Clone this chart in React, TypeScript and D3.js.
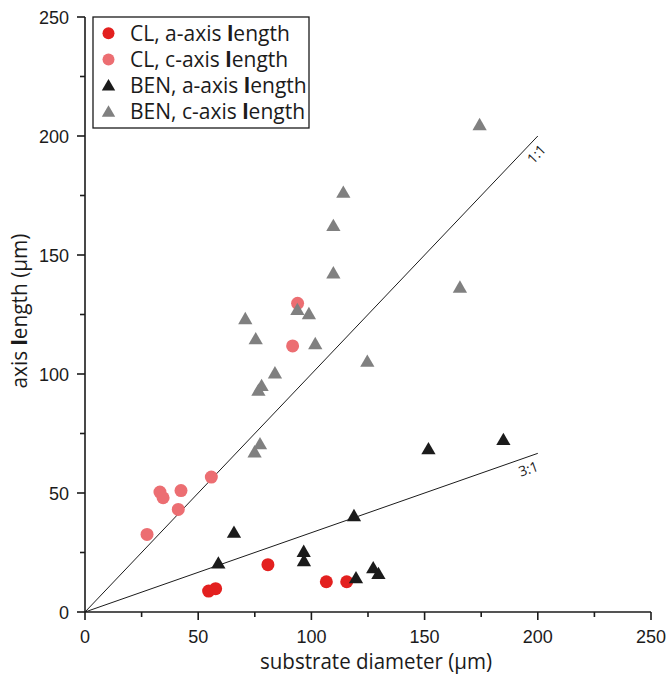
import React from 'react';
import * as d3 from 'd3';

// substrate diameter (µm), axis length (µm)
const clA_x = [54.6, 57.7, 80.8, 106.6, 115.6];
const clA_y = [8.8, 9.8, 19.9, 12.7, 12.7];

const clC_x = [27.4, 33.1, 34.5, 42.4, 41.2, 55.8, 91.7, 93.9];
const clC_y = [32.6, 50.4, 48.0, 51.0, 43.1, 56.7, 111.8, 129.7];

const benA_x = [58.9, 65.8, 96.6, 96.7, 118.8, 119.7, 127.3, 129.6, 151.7, 184.8];
const benA_y = [20.4, 33.3, 25.3, 21.4, 40.3, 14.2, 18.4, 16.0, 68.4, 72.3];

const benC_x = [114.1, 109.7, 109.7, 93.8, 98.9, 70.8, 75.4, 101.7, 124.7, 83.9, 78.0, 76.6, 77.3, 74.9, 174.3, 165.6];
const benC_y = [176.2, 162.2, 142.3, 126.9, 125.2, 123.1, 114.6, 112.6, 105.2, 100.3, 95.0, 93.0, 70.5, 67.1, 204.6, 136.3];

const majorTicks = [0, 50, 100, 150, 200, 250];
const minorTicks = [25, 75, 125, 175, 225];

const refLines = [
  { label: '1:1', x0: 0, y0: 0, x1: 200, y1: 200 },
  { label: '3:1', x0: 0, y0: 0, x1: 200, y1: 200 / 3 },
];

const seriesNames = ['CL, a-axis length', 'CL, c-axis length', 'BEN, a-axis length', 'BEN, c-axis length'];

const W = 667;
const H = 675;
const M = { left: 85, right: 651, top: 17, bottom: 612 };

const FONT_TICK = '"Liberation Sans", Arial, sans-serif';
const FONT_TXT = '"Open Sans", "Noto Sans", sans-serif';

function LengthText({ text }: { text: string }) {
  // the source rendering shows the "l" of "length" heavier
  const i = text.indexOf('length');
  if (i < 0) return <>{text}</>;
  return (
    <>
      {text.slice(0, i)}
      <tspan fontWeight={700}>l</tspan>
      {text.slice(i + 1)}
    </>
  );
}

export default function App() {
  const x = d3.scaleLinear().domain([0, 250]).range([M.left, M.right]);
  const y = d3.scaleLinear().domain([0, 250]).range([M.bottom, M.top]);

  const series = [
    { name: seriesNames[0], xs: clA_x, ys: clA_y, color: '#e3201f', shape: 'circle' },
    { name: seriesNames[1], xs: clC_x, ys: clC_y, color: '#ec6e72', shape: 'circle' },
    { name: seriesNames[2], xs: benA_x, ys: benA_y, color: '#1b1b1b', shape: 'triangle' },
    { name: seriesNames[3], xs: benC_x, ys: benC_y, color: '#808080', shape: 'triangle' },
  ];

  const tri = d3.symbol(d3.symbolTriangle, 88)() as string;
  const triLegend = d3.symbol(d3.symbolTriangle, 78)() as string;

  const drawOrder = [1, 0, 3, 2];

  return (
    <svg width={W} height={H} style={{ position: 'absolute', left: 0, top: 0, display: 'block', background: '#fff' }}>
      <rect x={0} y={0} width={W} height={H} fill="#fff" />

      {/* reference lines */}
      {refLines.map((r) => {
        const px0 = x(r.x0), py0 = y(r.y0), px1 = x(r.x1), py1 = y(r.y1);
        const ang = (Math.atan2(py1 - py0, px1 - px0) * 180) / Math.PI;
        const rad = (ang * Math.PI) / 180;
        // label placed just below the line end, along it
        const along = -14;
        const perp = 11;
        const lx = px1 + along * Math.cos(rad) - perp * Math.sin(rad);
        const ly = py1 + along * Math.sin(rad) + perp * Math.cos(rad);
        return (
          <g key={r.label}>
            <line x1={px0} y1={py0} x2={px1} y2={py1} stroke="#1b1b1b" strokeWidth={1} />
            <text
              x={lx}
              y={ly}
              transform={`rotate(${ang} ${lx} ${ly})`}
              fontFamily={FONT_TXT}
              fontSize={14}
              textAnchor="middle"
              dominantBaseline="central"
              fill="#1b1b1b"
            >
              {r.label}
            </text>
          </g>
        );
      })}

      {/* points */}
      {drawOrder.map((si) => {
        const s = series[si];
        return (
          <g key={s.name}>
            {s.xs.map((vx, i) =>
              s.shape === 'circle' ? (
                <circle key={i} cx={x(vx)} cy={y(s.ys[i])} r={6.5} fill={s.color} />
              ) : (
                <path key={i} d={tri} transform={`translate(${x(vx)},${y(s.ys[i]) + 1})`} fill={s.color} />
              )
            )}
          </g>
        );
      })}

      {/* axes */}
      <g stroke="#1b1b1b" strokeWidth={1.6} fill="none">
        <line x1={M.left} y1={M.bottom} x2={M.right} y2={M.bottom} />
        <line x1={M.left} y1={M.bottom} x2={M.left} y2={M.top} />
        {majorTicks.map((t) => (
          <line key={'xM' + t} x1={x(t)} x2={x(t)} y1={M.bottom} y2={M.bottom + 8} />
        ))}
        {minorTicks.map((t) => (
          <line key={'xm' + t} x1={x(t)} x2={x(t)} y1={M.bottom} y2={M.bottom + 5} />
        ))}
        {majorTicks.map((t) => (
          <line key={'yM' + t} y1={y(t)} y2={y(t)} x1={M.left} x2={M.left - 8} />
        ))}
        {minorTicks.map((t) => (
          <line key={'ym' + t} y1={y(t)} y2={y(t)} x1={M.left} x2={M.left - 5} />
        ))}
      </g>
      <g fontFamily={FONT_TICK} fontSize={18} fill="#1b1b1b">
        {majorTicks.map((t) => (
          <text key={'xl' + t} x={x(t)} y={M.bottom + 31} textAnchor="middle">
            {t}
          </text>
        ))}
        {majorTicks.map((t) => (
          <text key={'yl' + t} x={M.left - 16} y={y(t) + 6.5} textAnchor="end">
            {t}
          </text>
        ))}
      </g>

      {/* axis titles */}
      <text x={376} y={669} textAnchor="middle" fontFamily={FONT_TXT} fontSize={21} fill="#1b1b1b" textLength={232} lengthAdjust="spacingAndGlyphs">
        substrate diameter (µm)
      </text>
      <text
        transform={`translate(27,311) rotate(-90)`}
        textAnchor="middle"
        fontFamily={FONT_TXT}
        fontSize={21}
        fill="#1b1b1b"
        textLength={155}
        lengthAdjust="spacingAndGlyphs"
      >
        axis <LengthText text="length" /> (µm)
      </text>

      {/* legend */}
      <g>
        <rect x={93} y={17} width={216} height={111} fill="#fff" stroke="#1b1b1b" strokeWidth={1.3} />
        {series.map((s, i) => {
          const cy = 33.3 + i * 26.2;
          return (
            <g key={'lg' + i}>
              {s.shape === 'circle' ? (
                <circle cx={108.5} cy={cy} r={6} fill={s.color} />
              ) : (
                <path d={triLegend} transform={`translate(108.5,${cy + 1})`} fill={s.color} />
              )}
              <text x={130} y={cy + 7.5} fontFamily={FONT_TXT} fontSize={21} fill="#1b1b1b">
                <LengthText text={s.name} />
              </text>
            </g>
          );
        })}
      </g>
    </svg>
  );
}
